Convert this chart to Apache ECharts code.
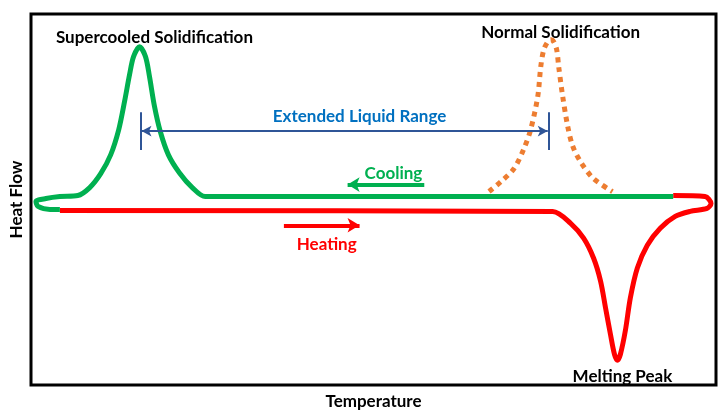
<!DOCTYPE html>
<html><head><meta charset="utf-8">
<script src="https://cdn.jsdelivr.net/npm/echarts@6/dist/echarts.min.js"></script>
<style>html,body{margin:0;padding:0;background:#fff}#c{width:725px;height:415px}</style>
</head><body><div id="c"></div>
<script>
// Schematic DSC data (arbitrary units: temperature x, heat flow y)
const coolingCurve = [
  [645,190],[175,190],[162,199],[149,214],[138,232],[130,255],[124,281],[119,311],[115,331],[109,341],[103,331],[99,313],[94,286],[88,257],[80,232],[70,213],[59,199],[47,191],[29,190],[15,188],[5,185],[7,180],[19,177],[29,177]
];
const heatingCurve = [
  [29,176],[524,175],[542,163],[555,148],[565,128],[572,105],[577,78],[582,51],[586,31],[589,25],[592,31],[597,55],[602,88],[609,118],[619,141],[632,158],[647,170],[662,175],[679,178],[683,183],[677,190],[645,191]
];
const normalSolidification = [
  [460,195],[472,205],[485,218],[495,238],[502,258],[509,291],[512,321],[515,338],[519,346],[522,348],[525,346],[528,338],[530,321],[534,291],[539,261],[544,241],[552,225],[565,208],[584,195]
];
const liquidRange = [110, 520];      // start / end of extended liquid range (x)
const liquidRangeY = 256;
const rangeTickHalf = 19;
const coolingArrow = [[395,202],[318,202]];
const heatingArrow = [[254,161],[330,161]];
const annotationText = ['Supercooled Solidification','Normal Solidification','Extended Liquid Range','Cooling','Heating','Melting Peak'];
const annotationPos = [[124,350],[532,355],[330,271],[364,213],[297,142],[594,9]];
const annotationColor = ['#000','#000','#0070c0','#00b050','#ff0000','#000'];

const FONT = 'Lato';
const chart = echarts.init(document.getElementById('c'));
chart.setOption({
  animation:false,
  grid:{left:28,right:9,top:14,bottom:27,show:true,borderColor:'#000',borderWidth:3,backgroundColor:'#fff'},
  xAxis:{type:'value',min:0,max:688,axisLine:{show:false},axisTick:{show:false},axisLabel:{show:false},splitLine:{show:false},
    name:'Temperature',nameLocation:'middle',nameGap:8,nameTextStyle:{fontFamily:FONT,fontWeight:'bold',fontSize:17,color:'#000',verticalAlign:'top'}},
  yAxis:{type:'value',min:0,max:374,axisLine:{show:false},axisTick:{show:false},axisLabel:{show:false},splitLine:{show:false},
    name:'Heat Flow',nameLocation:'middle',nameGap:6,nameTextStyle:{fontFamily:FONT,fontWeight:'bold',fontSize:17,color:'#000'}},
  series:[
    {type:'line',data:normalSolidification,smooth:0.3,showSymbol:false,
      lineStyle:{color:'#ed7d31',width:5,type:[5,5],cap:'butt'}},
    {type:'line',data:heatingCurve,smooth:0.3,showSymbol:false,
      lineStyle:{color:'#ff0000',width:5,join:'round'}},
    {type:'line',data:coolingCurve,smooth:0.3,showSymbol:false,
      lineStyle:{color:'#00b050',width:5,join:'round'}},
    {type:'line',data:[],showSymbol:false,
      markLine:{silent:true,symbol:['none','none'],label:{show:false},lineStyle:{color:'#2f5597',width:2,type:'solid'},
        data:[
          [{coord:[liquidRange[0],liquidRangeY-rangeTickHalf]},{coord:[liquidRange[0],liquidRangeY+rangeTickHalf]}],
          [{coord:[liquidRange[1],liquidRangeY-rangeTickHalf]},{coord:[liquidRange[1],liquidRangeY+rangeTickHalf]}]
        ]}},
    {type:'line',data:[],showSymbol:false,
      markLine:{silent:true,symbol:['arrow','arrow'],symbolSize:[8,10],label:{show:false},lineStyle:{color:'#2f5597',width:2,type:'solid'},
        data:[[{coord:[liquidRange[0]+1,liquidRangeY]},{coord:[liquidRange[1]-1,liquidRangeY]}]]}},
    {type:'line',data:[],showSymbol:false,
      markLine:{silent:true,symbol:['none','arrow'],symbolSize:[11,12],label:{show:false},lineStyle:{color:'#00b050',width:4,type:'solid'},
        data:[[{coord:coolingArrow[0]},{coord:coolingArrow[1]}]]}},
    {type:'line',data:[],showSymbol:false,
      markLine:{silent:true,symbol:['none','arrow'],symbolSize:[11,12],label:{show:false},lineStyle:{color:'#ff0000',width:4,type:'solid'},
        data:[[{coord:heatingArrow[0]},{coord:heatingArrow[1]}]]}}
  ]
});
chart.setOption({
  graphic: annotationText.map((t,i)=>{
    const p = chart.convertToPixel({gridIndex:0}, annotationPos[i]);
    return {type:'text',x:p[0],y:p[1],silent:true,
      style:{text:t,fill:annotationColor[i],font:'bold 17px Lato',align:'center',verticalAlign:'middle'}};
  })
});
</script></body></html>
